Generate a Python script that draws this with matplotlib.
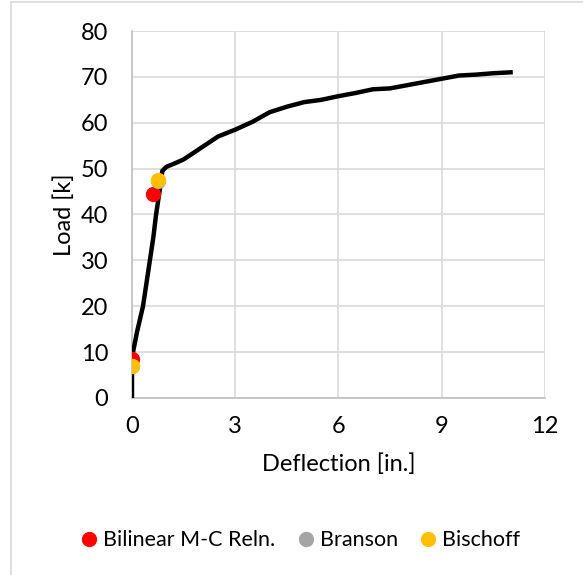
import matplotlib
matplotlib.use("Agg")
import matplotlib.pyplot as plt
import matplotlib.patches as mpatches
import numpy as np

plt.rcParams['font.family'] = ['Lato', 'DejaVu Sans']

# test curve (deflection [in.], load [k])
defl = [0.0, 0.0, 0.03, 0.15, 0.32, 0.42, 0.52, 0.62, 0.70, 0.78, 0.84, 0.88, 0.92, 1.0, 1.2,
        1.5, 2.0, 2.5, 3.0, 3.5, 4.0, 4.5, 5.0, 5.5, 6.0, 6.5, 7.0, 7.5, 8.0,
        8.5, 9.0, 9.5, 10.0, 10.5, 11.0]
load = [0.0, 5.0, 10.0, 14.5, 20.0, 25.0, 30.0, 35.0, 40.0, 44.0, 47.0, 49.5, 49.8, 50.4, 51.0,
        52.0, 54.5, 57.0, 58.5, 60.2, 62.3, 63.5, 64.5, 65.0, 65.8, 66.5, 67.3, 67.5, 68.2,
        68.9, 69.6, 70.3, 70.5, 70.8, 71.0]

# predictions
bilinear_x = [0.0, 0.62]
bilinear_y = [8.4, 44.4]
branson_x = [0.0, 0.75]
branson_y = [7.0, 47.3]
bischoff_x = [0.0, 0.75]
bischoff_y = [7.0, 47.5]

fig = plt.figure(figsize=(5.83, 5.75), dpi=100)
ax = fig.add_axes([0.2264, 0.308, 0.7084, 0.638])

# chart area border
fig.patches.append(mpatches.Rectangle((11 / 583, -0.01), 1.0, 1 - 2 / 575 + 0.01,
                                      transform=fig.transFigure, fill=False,
                                      edgecolor="#d9d9d9", linewidth=1.2))

ax.plot(defl, load, color="black", linewidth=3.2, zorder=3, solid_joinstyle="round")
ax.plot(bilinear_x, bilinear_y, "o", color="#ff0000", markersize=10, zorder=4,
        label="Bilinear M-C Reln.")
ax.plot(branson_x, branson_y, "o", color="#a5a5a5", markersize=10, zorder=4,
        label="Branson")
ax.plot(bischoff_x, bischoff_y, "o", color="#ffc000", markersize=10, zorder=5,
        label="Bischoff")

ax.set_xlim(0, 12)
ax.set_ylim(0, 80)
ax.set_xticks(np.arange(0, 13, 3))
ax.set_yticks(np.arange(0, 81, 10))
ax.grid(color="#d9d9d9", linewidth=1.2)
ax.set_axisbelow(True)
for s in ["top", "right"]:
    ax.spines[s].set_visible(False)
for s in ["left", "bottom"]:
    ax.spines[s].set_color("#bfbfbf")
    ax.spines[s].set_linewidth(1.2)
ax.tick_params(length=0, labelsize=17, colors="black")
ax.tick_params(axis="y", pad=17)
ax.tick_params(axis="x", pad=13)
ax.set_xlabel("Deflection [in.]", fontsize=17, labelpad=12)
ax.set_ylabel("Load [k]", fontsize=17, labelpad=4)

ax.legend(loc="center", bbox_to_anchor=(0.41, -0.388), ncol=3, frameon=False,
          fontsize=15.5, handlelength=0.6, handletextpad=0.35, columnspacing=1.1,
          markerscale=1.0)

fig.savefig("out.png", dpi=100)
